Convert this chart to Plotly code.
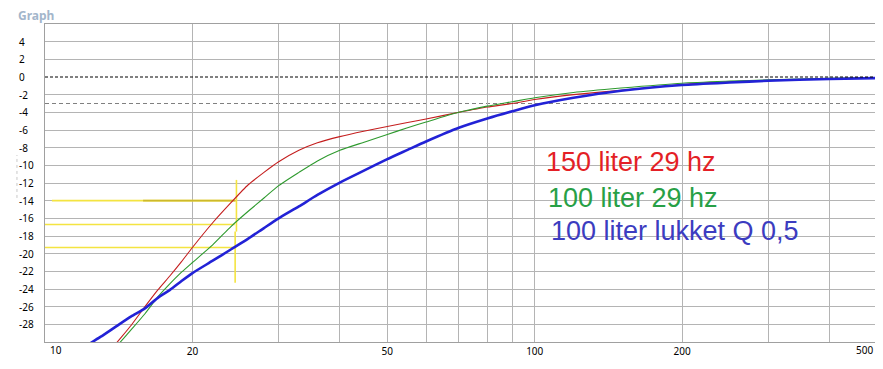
import plotly.graph_objects as go

# ---------------- data ----------------
freq_hz = [12, 13, 14, 15, 16, 17, 18, 19, 20, 22, 24, 26, 28, 30, 33, 36, 40, 45,
           50, 55, 60, 70, 80, 90, 100, 120, 150, 200, 250, 300, 400, 500]

red_150l_29hz = [-34.5, -32.3, -30.1, -28.1, -26.0, -24.1, -22.5, -20.9, -19.3, -16.5,
                 -14.2, -12.2, -10.8, -9.6, -8.3, -7.45, -6.75, -6.12, -5.6, -5.15, -4.75,
                 -4.0, -3.4, -3.0, -2.55, -2.0, -1.5, -0.85, -0.55, -0.38, -0.2, -0.1]

green_100l_29hz = [-35.1, -32.7, -30.5, -28.6, -26.8, -24.9, -23.4, -22.1, -21.0, -19.0,
                   -16.9, -15.2, -13.7, -12.3, -10.8, -9.5, -8.3, -7.35, -6.5, -5.75, -5.1,
                   -4.0, -3.3, -2.8, -2.35, -1.75, -1.25, -0.7, -0.47, -0.32, -0.16, -0.08]

blue_100l_closed = [-30.6, -29.4, -28.2, -27.1, -26.2, -25.0, -24.1, -23.1, -22.2, -20.8,
                    -19.5, -18.3, -17.1, -16.0, -14.65, -13.35, -11.95, -10.55, -9.3, -8.25, -7.3,
                    -5.75, -4.7, -3.88, -3.2, -2.35, -1.55, -0.9, -0.62, -0.43, -0.22, -0.12]

series_names = ["150 liter 29 hz", "100 liter 29 hz", "100 liter lukket Q 0,5"]

# yellow read-off markers
marker_levels = [-14.0, -16.7, -19.3]
marker_start_hz = [10.33, 10.0, 10.0]
marker_end_hz = [24.5, 24.4, 24.4]
marker_split_hz = 15.86
vert_hz = [24.6, 24.45]
vert_lo = [-17.5, -23.3]
vert_hi = [-11.65, -17.5]

x_tick_vals = [10, 20, 30, 40, 50, 60, 70, 80, 90, 100, 200, 300, 400, 500]
x_label_vals = [20, 50, 100, 200]
x_edge_labels = [10, 500]
y_grid_vals = [v for v in range(-28, 6, 2) if v != 0]
y_label_vals = list(range(-28, 6, 2))
ref_levels = [0, -3]

# ---------------- figure ----------------
fig = go.Figure()

YEL = "#f4e441"
YEL_DARK = "#cdb92c"

for lvl, a, b in zip(marker_levels, marker_start_hz, marker_end_hz):
    fig.add_trace(go.Scatter(x=[a, b], y=[lvl, lvl], mode="lines",
                             line=dict(color=YEL, width=1.6), hoverinfo="skip", showlegend=False))
fig.add_trace(go.Scatter(x=[marker_split_hz, marker_end_hz[0]], y=[marker_levels[0]] * 2, mode="lines",
                         line=dict(color=YEL_DARK, width=1.6), hoverinfo="skip", showlegend=False))
for f, lo, hi in zip(vert_hz, vert_lo, vert_hi):
    fig.add_trace(go.Scatter(x=[f, f], y=[lo, hi], mode="lines",
                             line=dict(color=YEL, width=1.6), hoverinfo="skip", showlegend=False))

fig.add_trace(go.Scatter(x=freq_hz, y=red_150l_29hz, mode="lines", name=series_names[0],
                         line=dict(color="#c41e1e", width=1.1, shape="spline", smoothing=0.6),
                         showlegend=False))
fig.add_trace(go.Scatter(x=freq_hz, y=green_100l_29hz, mode="lines", name=series_names[1],
                         line=dict(color="#2e9a2e", width=1.1, shape="spline", smoothing=0.6),
                         showlegend=False))
fig.add_trace(go.Scatter(x=freq_hz, y=blue_100l_closed, mode="lines", name=series_names[2],
                         line=dict(color="#2222d6", width=2.6, shape="spline", smoothing=0.6),
                         showlegend=False))

# reference dashed lines (0 dB black, -3 dB grey)
fig.add_shape(type="line", xref="paper", x0=0, x1=1, yref="y", y0=ref_levels[0], y1=ref_levels[0],
              line=dict(color="#000000", width=1, dash="3px,2px"), layer="above")
fig.add_shape(type="line", xref="paper", x0=0, x1=1, yref="y", y0=ref_levels[1], y1=ref_levels[1],
              line=dict(color="#808080", width=1, dash="4px,3px"), layer="below")

# faint dotted focus mark left of axis
fig.add_shape(type="line", xref="paper", x0=-0.0337, x1=-0.0337, yref="paper", y0=0.453, y1=0.588,
              line=dict(color="#c8c8c8", width=1, dash="dot"))

TICK_FONT = dict(family="Noto Sans, DejaVu Sans, sans-serif", size=10, color="#000000")

annotations = []
for v in y_label_vals:
    annotations.append(dict(xref="paper", x=0, xshift=-28, xanchor="left",
                             yref="y", y=v, yanchor="middle", text=str(v),
                             showarrow=False, font=TICK_FONT))
annotations.append(dict(xref="x", x=1, xshift=3, xanchor="left", yref="paper", y=0, yshift=-8,
                        yanchor="middle", text=str(x_edge_labels[0]), showarrow=False, font=TICK_FONT))
annotations.append(dict(xref="x", x=2.69897, xshift=-2, xanchor="right", yref="paper", y=0, yshift=-8,
                        yanchor="middle", text=str(x_edge_labels[1]), showarrow=False, font=TICK_FONT))

# title
annotations.append(dict(xref="paper", x=0, xshift=-29, xanchor="left", yref="paper", y=1, yshift=9,
                        yanchor="middle", text="<b>Graph</b>", showarrow=False,
                        font=dict(family="Noto Sans, DejaVu Sans, sans-serif", size=12, color="#a3b6cb")))

# series labels
LBL_FONT = "Liberation Sans, Arial, sans-serif"
label_pos = [(0.5998, 0.5676, "#e41f26"), (0.6022, 0.4544, "#28a046"), (0.6054, 0.3475, "#3c3cc0")]
for name, (px, py, col) in zip(series_names, label_pos):
    annotations.append(dict(xref="paper", x=px, xanchor="left", yref="paper", y=py, yanchor="middle",
                            text=name, showarrow=False, font=dict(family=LBL_FONT, size=27, color=col)))

# page body has an 8px default margin, so the figure is sized/offset to compensate
fig.update_layout(
    width=875, height=361,
    margin=dict(l=37, r=6, t=16, b=27),
    paper_bgcolor="#ffffff", plot_bgcolor="#ffffff",
    annotations=annotations,
    showlegend=False,
    xaxis=dict(type="log", range=[1, 2.69897],
               tickmode="array", tickvals=x_tick_vals,
               ticktext=[str(v) if v in x_label_vals else "" for v in x_tick_vals],
               showgrid=True, gridcolor="#b4b4b4", gridwidth=1,
               showline=True, linecolor="#a0a0a0", linewidth=1, mirror=True,
               ticks="", zeroline=False, tickfont=TICK_FONT),
    yaxis=dict(range=[-30, 6], tickmode="array", tickvals=y_grid_vals,
               showticklabels=False, showgrid=True, gridcolor="#b4b4b4", gridwidth=1,
               showline=True, linecolor="#a0a0a0", linewidth=1, mirror=True,
               ticks="", zeroline=False),
)

fig.write_html("out.html")
